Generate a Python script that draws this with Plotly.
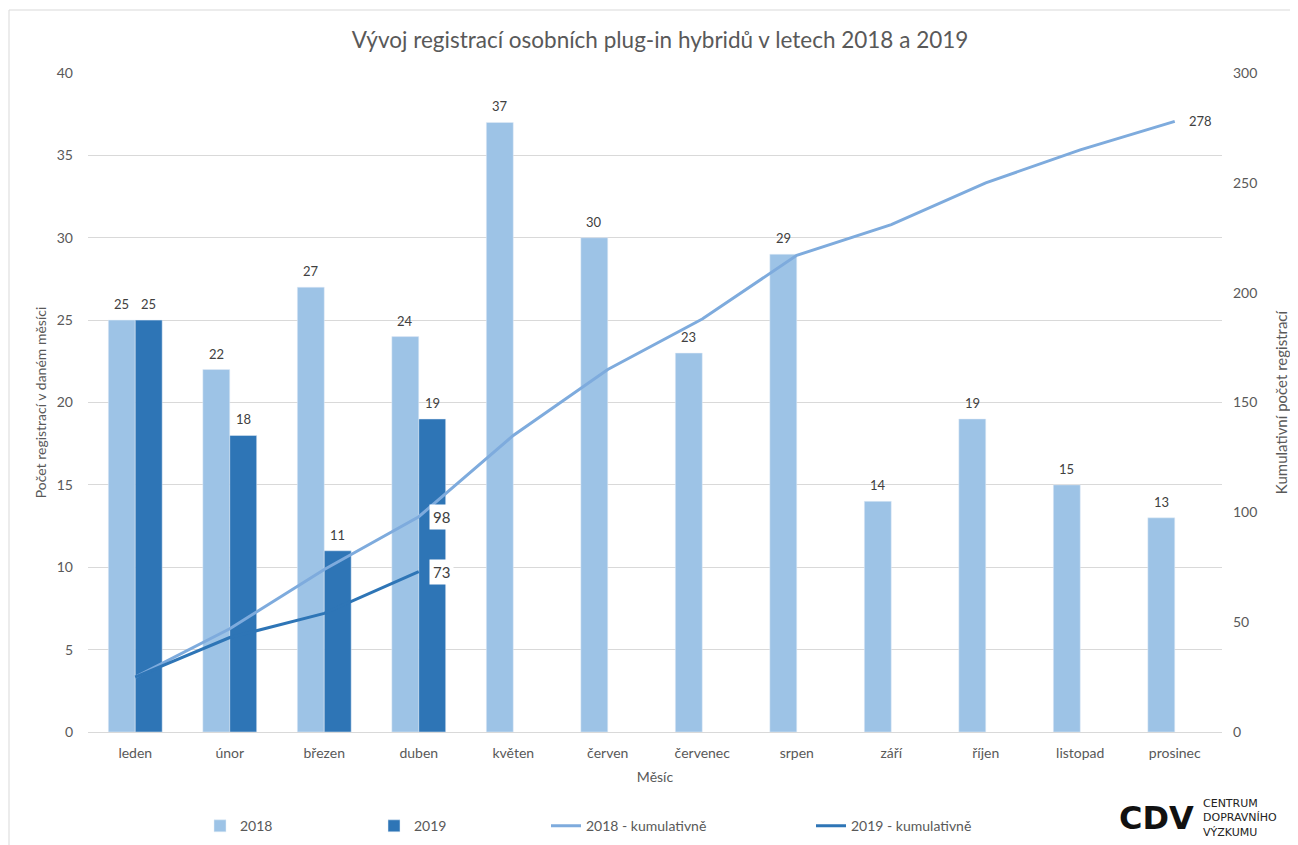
import plotly.graph_objects as go

months = ["leden", "únor", "březen", "duben", "květen", "červen", "červenec",
          "srpen", "září", "říjen", "listopad", "prosinec"]
reg_2018 = [25, 22, 27, 24, 37, 30, 23, 29, 14, 19, 15, 13]
reg_2019 = [25, 18, 11, 19, None, None, None, None, None, None, None, None]
cum_2018 = [25, 47, 74, 98, 135, 165, 188, 217, 231, 250, 265, 278]
cum_2019 = [25, 43, 54, 73, None, None, None, None, None, None, None, None]
left_ticks = [0, 5, 10, 15, 20, 25, 30, 35, 40]
right_ticks = [0, 50, 100, 150, 200, 250, 300]

C18 = "#9DC3E6"
C19 = "#2E75B6"
L18 = "#7EABDD"
TXT = "#595959"
FONT = "Lato, Open Sans, sans-serif"
BARGAP = 0.43
HALF = 1134 / 12 * (1 - BARGAP) / 4  # pixel offset of each bar's centre in its group

fig = go.Figure()
fig.add_trace(go.Bar(x=months, y=reg_2018, name="2018", marker_color=C18,
                     legend="legend2"))
fig.add_trace(go.Bar(x=months, y=reg_2019, name="2019", marker_color=C19,
                     legend="legend3"))
fig.add_trace(go.Scatter(x=months, y=cum_2018, name="2018 - kumulativně", yaxis="y2",
                         mode="lines", line=dict(color=L18, width=3),
                         legend="legend4"))
fig.add_trace(go.Scatter(x=months, y=cum_2019, name="2019 - kumulativně", yaxis="y2",
                         mode="lines", line=dict(color=C19, width=3),
                         legend="legend5"))

# bar data labels
for series, shift in ((reg_2018, -HALF), (reg_2019, HALF)):
    for m, v in zip(months, series):
        if v is None:
            continue
        fig.add_annotation(x=m, y=v, yref="y", text=str(v), showarrow=False,
                           xshift=shift, yshift=16, yanchor="middle",
                           font=dict(size=13, color="#404040", family=FONT))

# data labels on cumulative lines
fig.add_annotation(x=months[-1], y=cum_2018[-1], yref="y2", text=str(cum_2018[-1]),
                   showarrow=False, xanchor="left", xshift=12,
                   font=dict(size=13, color="#404040", family=FONT))
fig.add_annotation(x=months[3], y=cum_2018[3], yref="y2", text=str(cum_2018[3]),
                   showarrow=False, xanchor="left", xshift=10, bgcolor="white",
                   borderpad=3, font=dict(size=15, color="#404040", family=FONT))
fig.add_annotation(x=months[3], y=cum_2019[3], yref="y2", text=str(cum_2019[3]),
                   showarrow=False, xanchor="left", xshift=10, bgcolor="white",
                   borderpad=3, font=dict(size=15, color="#404040", family=FONT))

# logo
fig.add_annotation(xref="paper", yref="paper", x=(1196 - 88) / 1134, y=-0.1305,
                   text="<b>CDV</b>", showarrow=False, xanchor="right", yanchor="middle",
                   font=dict(size=32, color="#111111", family="DejaVu Sans"))
fig.add_annotation(xref="paper", yref="paper", x=(1201 - 88) / 1134, y=-0.1305,
                   text="CENTRUM<br>DOPRAVNÍHO<br>VÝZKUMU", align="left",
                   showarrow=False, xanchor="left", yanchor="middle",
                   font=dict(size=11, color="#222222", family="DejaVu Sans"))

# chart border
fig.add_shape(type="rect", xref="paper", yref="paper", x0=-79 / 1134, x1=1.2,
              y0=-0.3, y1=1 + 63 / 659, line=dict(color="#D9D9D9", width=1),
              fillcolor="rgba(0,0,0,0)", layer="below")

leg = dict(orientation="h", yref="paper", y=-0.143, yanchor="middle",
           xanchor="left", font=dict(size=14, color=TXT, family=FONT),
           bgcolor="rgba(0,0,0,0)")
fig.update_layout(
    width=1290, height=837,
    margin=dict(l=80, r=76, t=65, b=113, autoexpand=False),
    paper_bgcolor="white", plot_bgcolor="white",
    barmode="group", bargap=BARGAP, bargroupgap=0,
    font=dict(family=FONT, size=14, color=TXT),
    title=dict(text="Vývoj registrací osobních plug-in hybridů v letech 2018 a 2019",
               x=(660 - 8) / 1290, xanchor="center", y=1 - 32 / 837, yanchor="middle",
               font=dict(size=22.5, color=TXT, family=FONT)),
    xaxis=dict(title=dict(text="Měsíc", standoff=12, font=dict(size=14, color=TXT)),
               showgrid=False, showline=True, linecolor="#D9D9D9", ticks="",
               ticklabelstandoff=8, tickfont=dict(size=14, color=TXT)),
    yaxis=dict(range=[0, 40], tickvals=left_ticks, showgrid=True, gridcolor="#D9D9D9",
               zeroline=False, showline=False, ticks="", ticklabelstandoff=14,
               title=dict(text="Počet registrací v daném měsíci", standoff=6,
                          font=dict(size=14, color=TXT)),
               tickfont=dict(size=14, color=TXT)),
    yaxis2=dict(range=[0, 300], tickvals=right_ticks, overlaying="y", side="right",
                showgrid=False, zeroline=False, showline=False, ticks="",
                ticklabelstandoff=10,
                title=dict(text="Kumulativní počet registrací", standoff=20,
                           font=dict(size=15, color=TXT)),
                tickfont=dict(size=14, color=TXT)),
    legend2=dict(leg, x=(200 - 88) / 1134),
    legend3=dict(leg, x=(374 - 88) / 1134),
    legend4=dict(leg, x=(546 - 88) / 1134),
    legend5=dict(leg, x=(811 - 88) / 1134),
)

fig.write_html("out.html")
